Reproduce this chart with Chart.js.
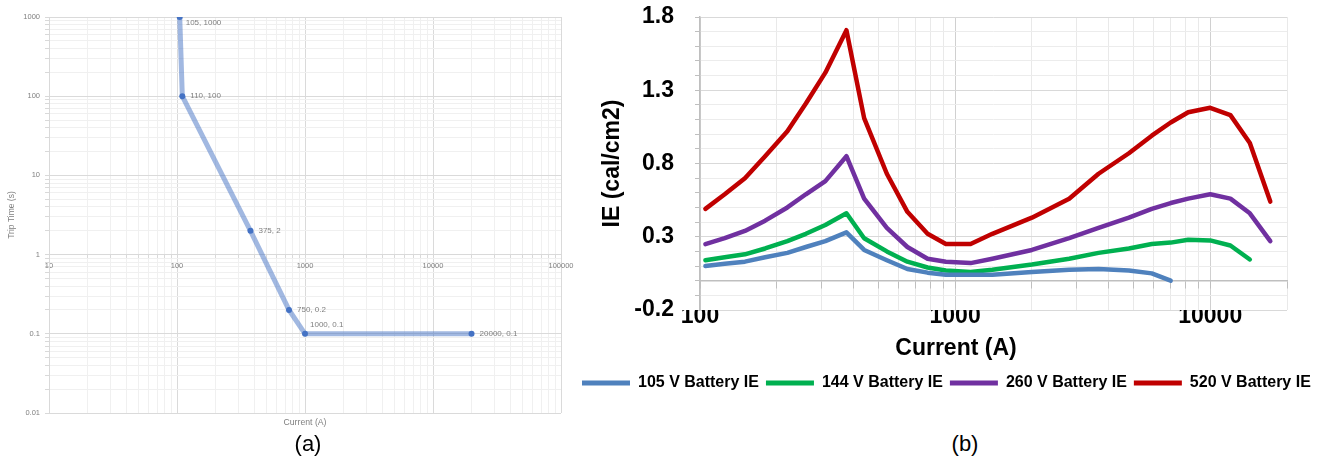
<!DOCTYPE html>
<html>
<head>
<meta charset="utf-8">
<script src="https://cdn.jsdelivr.net/npm/chart.js@4.4.1/dist/chart.umd.min.js"></script>
<style>
  html, body { margin: 0; padding: 0; background: #fff; }
  body { width: 1333px; height: 459px; position: relative; overflow: hidden; font-family: "Liberation Sans", Arial, sans-serif; }
  #wrapA { position: absolute; left: 0; top: 0; width: 600px; height: 430px; }
  #wrapB { position: absolute; left: 575px; top: 0; width: 758px; height: 401px; }
  .txt { position: absolute; transform: translate(-50%, -50%); white-space: nowrap; }
  #xTitleA { left: 305px; top: 422px; font-size: 8.7px; color: #7f7f7f; }
  #xTitleB { left: 956px; top: 347px; font-size: 23px; font-weight: bold; color: #000; }
  #capA { left: 308px; top: 444px; font-size: 22px; color: #000; }
  #capB { left: 965px; top: 444px; font-size: 22px; color: #000; }
</style>
</head>
<body>
<div id="wrapA"><canvas id="chartA"></canvas></div>
<div id="wrapB"><canvas id="chartB"></canvas></div>
<div class="txt" id="xTitleA">Current (A)</div>
<div class="txt" id="xTitleB">Current (A)</div>
<div class="txt" id="capA">(a)</div>
<div class="txt" id="capB">(b)</div>
<script>
// (a) trip curve
const tripCurrent = [105, 110, 375, 750, 1000, 20000];
const tripTime = [1000, 100, 2, 0.2, 0.1, 0.1];
const tripXLabels = [10, 100, 1000, 10000, 100000];
const tripYLabels = [0.01, 0.1, 1, 10, 100, 1000];

// (b) incident energy vs current
const ieCurrent = [105, 125, 150, 180, 220, 260, 310, 375, 440, 540, 650, 780, 920, 1150, 1400, 2000, 2800, 3650, 4800, 5900, 7000, 8200, 10000, 12000, 14300, 17200];
const ie105 = [0.10, 0.115, 0.13, 0.16, 0.19, 0.23, 0.27, 0.33, 0.21, 0.14, 0.08, 0.055, 0.04, 0.04, 0.04, 0.06, 0.075, 0.08, 0.07, 0.05, 0.0, null, null, null, null, null];
const ie144 = [0.14, 0.16, 0.18, 0.22, 0.27, 0.32, 0.38, 0.46, 0.29, 0.20, 0.13, 0.09, 0.07, 0.06, 0.075, 0.11, 0.15, 0.19, 0.22, 0.25, 0.26, 0.28, 0.275, 0.24, 0.145, null];
const ie260 = [0.25, 0.29, 0.34, 0.41, 0.50, 0.59, 0.68, 0.85, 0.56, 0.36, 0.23, 0.15, 0.13, 0.12, 0.15, 0.21, 0.29, 0.36, 0.43, 0.49, 0.53, 0.56, 0.59, 0.56, 0.46, 0.27];
const ie520 = [0.49, 0.59, 0.70, 0.85, 1.02, 1.21, 1.42, 1.71, 1.11, 0.73, 0.47, 0.32, 0.25, 0.25, 0.32, 0.43, 0.56, 0.73, 0.87, 0.99, 1.08, 1.15, 1.18, 1.13, 0.94, 0.54];
const ieNames = ['105 V Battery IE', '144 V Battery IE', '260 V Battery IE', '520 V Battery IE'];
const ieColors = ['#4f81bd', '#00b050', '#7030a0', '#c00000'];
const ieXLabels = [100, 1000, 10000];
const ieYLabels = [-0.2, 0.3, 0.8, 1.3, 1.8];

Chart.defaults.font.family = '"Liberation Sans", Arial, sans-serif';
Chart.defaults.animation = false;

// gridline positions for log axes: 1..9 x 10^k
function logGrid(min, max) {
    const out = [];
    for (let k = Math.floor(Math.log10(min)); k <= Math.ceil(Math.log10(max)); k++) {
        for (let m = 1; m < 10; m++) {
            const v = Number((m * Math.pow(10, k)).toPrecision(6));
            if (v >= min && v <= max) out.push(v);
        }
    }
    return out;
}
const isIn = (list, v) => list.some(l => Math.abs(l - v) < 1e-9 * Math.max(1, Math.abs(l)));

function pts(ys) {
    return ieCurrent.map((x, i) => ({ x: x, y: ys[i] }));
}

// labels "x, y" next to each point of chart (a)
const pointLabels = {
    id: 'pointLabels',
    afterDatasetsDraw(chart, args, opts) {
        if (!opts.show) return;
        const ctx = chart.ctx;
        const meta = chart.getDatasetMeta(0);
        ctx.save();
        ctx.font = '8px "Liberation Sans", Arial, sans-serif';
        ctx.fillStyle = '#7f7f7f';
        ctx.textBaseline = 'middle';
        meta.data.forEach((p, i) => {
            const off = opts.offsets[i] || [7, 0];
            ctx.fillText(tripCurrent[i] + ', ' + tripTime[i], p.x + off[0], p.y + off[1]);
        });
        ctx.restore();
    }
};

new Chart(document.getElementById('chartA'), {
    type: 'line',
    data: {
        datasets: [{
            data: tripCurrent.map((x, i) => ({ x: x, y: tripTime[i] })),
            borderColor: 'rgba(68,114,196,0.5)',
            borderWidth: 5,
            pointRadius: 3,
            pointBorderWidth: 0,
            pointBackgroundColor: '#4472c4',
            tension: 0
        }]
    },
    options: {
        responsive: true,
        maintainAspectRatio: false,
        layout: { padding: { top: 17, right: 39, bottom: 17, left: 0 } },
        plugins: {
            legend: { display: false },
            tooltip: { enabled: false },
            pointLabels: { show: true, offsets: [[6, 6], [8, 0], [8, 0], [8, 0], [5, -9], [8, 0]] }
        },
        scales: {
            x: {
                type: 'logarithmic',
                position: { y: 1 },
                min: 10, max: 100000,
                afterBuildTicks: s => { s.ticks = logGrid(10, 100000).map(v => ({ value: v })); },
                ticks: {
                    autoSkip: false, maxRotation: 0, padding: 3,
                    color: '#7f7f7f', font: { size: 7.5 },
                    callback: v => isIn(tripXLabels, v) ? String(v) : ''
                },
                grid: {
                    color: c => (c.tick && isIn(tripXLabels, c.tick.value)) ? '#dadada' : '#f0f0f0',
                    tickLength: 4, tickColor: '#d9d9d9'
                },
                border: { color: '#d9d9d9' }
            },
            y: {
                type: 'logarithmic',
                min: 0.01, max: 1000,
                afterBuildTicks: s => { s.ticks = logGrid(0.01, 1000).map(v => ({ value: v })); },
                afterFit: s => { s.width = 49; },
                ticks: {
                    autoSkip: false, padding: 5,
                    color: '#7f7f7f', font: { size: 7.5 },
                    callback: v => isIn(tripYLabels, v) ? String(v) : ''
                },
                grid: {
                    color: c => (c.tick && isIn(tripYLabels, c.tick.value)) ? '#dadada' : '#f0f0f0',
                    tickLength: 4, tickColor: '#d9d9d9'
                },
                border: { color: '#d9d9d9' },
                title: { display: true, text: 'Trip Time (s)', color: '#7f7f7f', font: { size: 8.5 }, padding: { top: 7, bottom: 0 } }
            }
        }
    },
    plugins: [pointLabels]
});

const yGridB = [];
for (let k = -2; k <= 18; k++) yGridB.push(k / 10);

new Chart(document.getElementById('chartB'), {
    type: 'line',
    data: {
        datasets: [ie105, ie144, ie260, ie520].map((ys, i) => ({
            label: ieNames[i],
            data: pts(ys),
            borderColor: ieColors[i],
            backgroundColor: ieColors[i],
            borderWidth: 4.5,
            pointRadius: 0,
            tension: 0,
            spanGaps: false,
            borderCapStyle: 'round',
            borderJoinStyle: 'round'
        }))
    },
    options: {
        responsive: true,
        maintainAspectRatio: false,
        layout: { padding: { top: 17, right: 0, bottom: 0, left: 0 } },
        plugins: {
            tooltip: { enabled: false },
            legend: {
                position: 'bottom',
                align: 'start',
                labels: {
                    boxWidth: 48, boxHeight: 5, padding: 7,
                    color: '#000', font: { size: 16, weight: 'bold' },
                    generateLabels: chart => chart.data.datasets.map((d, i) => ({
                        text: d.label, fillStyle: d.borderColor, strokeStyle: d.borderColor,
                        lineWidth: 0, hidden: false, datasetIndex: i, fontColor: '#000'
                    }))
                }
            }
        },
        scales: {
            x: {
                type: 'logarithmic',
                position: 'bottom',
                min: 100, max: 20000,
                afterBuildTicks: s => { s.ticks = logGrid(100, 20000).map(v => ({ value: v })); },
                afterFit: s => { s.height = 58; },
                ticks: {
                    autoSkip: false, maxRotation: 0, padding: -7,
                    color: '#000', font: { size: 23, weight: 'bold' },
                    callback: v => isIn(ieXLabels, v) ? String(v) : ''
                },
                grid: {
                    color: c => (c.tick && isIn(ieXLabels, c.tick.value)) ? '#d0d0d0' : '#e9e9e9',
                    drawTicks: false
                },
                border: { display: false }
            },
            xZero: {
                type: 'logarithmic',
                axis: 'x',
                position: { y: 0 },
                min: 100, max: 20000,
                afterBuildTicks: s => { s.ticks = logGrid(100, 20000).map(v => ({ value: v })); },
                ticks: { display: false, autoSkip: false },
                grid: { drawOnChartArea: false, tickLength: 7, color: '#bfbfbf' },
                border: { color: '#bfbfbf', width: 1.5 }
            },
            y: {
                min: -0.2, max: 1.8,
                afterBuildTicks: s => { s.ticks = yGridB.map(v => ({ value: v })); },
                afterFit: s => { s.width = 125; s.paddingTop = 0; s.paddingBottom = 0; },
                ticks: {
                    autoSkip: false, padding: 21,
                    color: '#000', font: { size: 23, weight: 'bold' },
                    callback: v => isIn(ieYLabels, v) ? v.toFixed(1) : ''
                },
                grid: {
                    color: c => (c.tick && isIn(ieYLabels, c.tick.value)) ? '#d9d9d9' : '#ececec',
                    tickLength: 5, tickColor: '#bfbfbf'
                },
                border: { color: '#bfbfbf', width: 1.5 },
                title: { display: true, text: 'IE (cal/cm2)', color: '#000', font: { size: 23, weight: 'bold' }, padding: { top: 24, bottom: 0 } }
            },
            yRight: {
                position: 'right',
                afterFit: s => { s.width = 46; s.paddingTop = 0; s.paddingBottom = 0; },
                ticks: { display: false },
                grid: { display: false },
                border: { display: false }
            }
        }
    }
});
</script>
</body>
</html>
